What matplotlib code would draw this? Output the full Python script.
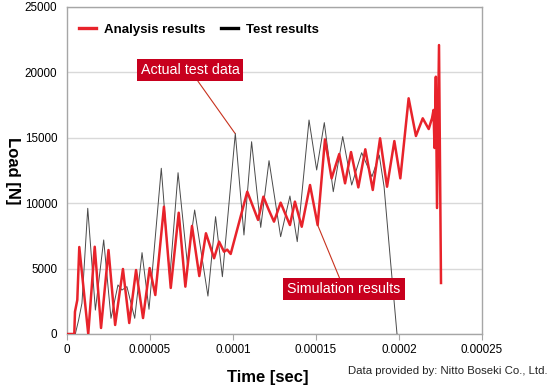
import matplotlib
matplotlib.use('Agg')
import matplotlib.pyplot as plt
import numpy as np

plt.rcParams['font.family'] = ['Liberation Sans', 'DejaVu Sans']

# analysis (simulation) results, time in microseconds, load in N
analysis_time_us = [0, 4.4, 4.8, 6.2, 7.4, 12.8, 16.7, 20.5, 25.0, 29.0, 33.7, 37.5, 41.6,
                    45.8, 49.8, 53.2, 58.4, 62.5, 67.3, 71.3, 75.3, 79.7, 83.7, 88.6,
                    91.6, 94.6, 96.5, 98.6, 108.6, 115.1, 118.3, 121.5, 124.7, 128.7,
                    134.3, 137.3, 141.4, 146.4, 151.0, 155.4, 159.4, 164.0, 167.5,
                    171.1, 175.5, 179.7, 184.2, 188.6, 192.8, 197.2, 200.8, 205.8,
                    210.2, 214.3, 217.9, 219.4, 219.9, 220.8, 221.4, 222.2, 222.9,
                    224.1, 225.3]
analysis_load = [0, 0, 1700, 2600, 6650, 0, 6670, 460, 6420, 690, 4970, 840, 4890,
                 1220, 5040, 2980, 9730, 3520, 9270, 3620, 8260, 4430, 7700, 5790,
                 7060, 6290, 6450, 6120, 10880, 8720, 10500, 9500, 8590, 10040,
                 8330, 10120, 8200, 11390, 8330, 14880, 11900, 13760, 11520,
                 13910, 11210, 14120, 11010, 14960, 11260, 14750, 11900, 18020,
                 15140, 16490, 15670, 16300, 16490, 17130, 14220, 19670, 9630,
                 22090, 3900]

# measured test results
test_time_us = [0, 5.0, 7.0, 9.0, 12.5, 17.1, 22.1, 26.5, 30.7, 33.1, 36.1, 40.8, 45.2,
                49.4, 56.8, 61.9, 66.9, 72.5, 76.9, 84.9, 89.5, 93.6, 101.4, 106.6,
                111.2, 116.7, 121.7, 128.7, 134.3, 138.7, 145.8, 150.4, 155.0,
                160.4, 166.1, 171.5, 177.5, 183.7, 188.1, 191.0, 195.0, 198.8]
test_load = [0, 0, 1070, 2350, 9610, 1830, 7190, 1200, 3750, 3360, 3620, 1200, 6220,
             1890, 12670, 4260, 12330, 5400, 9480, 2900, 8970, 4380, 15340, 7570,
             14700, 8150, 13250, 7440, 10550, 7060, 16360, 12540, 16160,
             10880, 15090, 11390, 13860, 12030, 13680, 11260, 5400, 0]

x_ticks = [0, 0.00005, 0.0001, 0.00015, 0.0002, 0.00025]
x_ticklabels = ['0', '0.00005', '0.0001', '0.00015', '0.0002', '0.00025']
y_ticks = [0, 5000, 10000, 15000, 20000, 25000]

RED = '#e8232b'
BOX = '#c8001e'
GRID = '#d9d9d9'
SPINE = '#a6a6a6'


def main():
    fig = plt.figure(figsize=(5.5, 3.86), dpi=100)
    ax = fig.add_axes([67 / 550, 1 - 334 / 386, 415 / 550, 327 / 386])

    t_a = np.array(analysis_time_us) * 1e-6
    t_t = np.array(test_time_us) * 1e-6

    ax.plot(t_t, test_load, color='#4a4a4a', lw=0.7, label='Test results',
            solid_joinstyle='round', zorder=3)
    ax.plot(t_a, analysis_load, color=RED, lw=1.8, label='Analysis results',
            solid_joinstyle='round', zorder=4)

    ax.set_xlim(0, 0.00025)
    ax.set_ylim(0, 25000)
    ax.set_xticks(x_ticks)
    ax.set_xticklabels(x_ticklabels)
    ax.set_yticks(y_ticks)
    ax.tick_params(axis='x', length=4, color=SPINE, labelsize=8.4, pad=3)
    ax.tick_params(axis='y', length=0, labelsize=8.4, pad=7)
    ax.grid(axis='y', color=GRID, lw=1)
    ax.set_axisbelow(True)
    for s in ax.spines.values():
        s.set_color(SPINE)
        s.set_linewidth(1)

    # legend: analysis first, thick handles
    handles, labels = ax.get_legend_handles_labels()
    leg = ax.legend(handles[::-1], labels[::-1], loc='upper left', ncol=2,
                    frameon=False, bbox_to_anchor=(0.0, 0.985),
                    prop={'weight': 'bold', 'size': 9.5}, handlelength=1.3,
                    columnspacing=1.2, handletextpad=0.6)
    for ln in leg.get_lines():
        ln.set_linewidth(2.4)
    leg.get_lines()[1].set_color('black')

    ax.set_xlabel('Time [sec]', fontsize=12, fontweight='bold')
    ax.xaxis.set_label_coords(0.484, -0.11)
    ax.set_ylabel('Load [N]', fontsize=12, fontweight='bold', rotation=270,
                  va='center')
    ax.yaxis.set_label_coords(-0.132, 0.5)

    box = dict(boxstyle='square,pad=0.28', fc=BOX, ec='none')
    arrow = dict(arrowstyle='-', color='#c8321e', lw=0.8, shrinkA=0, shrinkB=0)
    ax.annotate('Actual test data', xy=(1.012e-4, 15340), xytext=(7.41e-5, 20180),
                color='white', fontsize=10.3, ha='center', va='center',
                bbox=box, arrowprops=arrow, zorder=6)
    ax.annotate('Simulation results', xy=(1.51e-4, 8330), xytext=(1.669e-4, 3440),
                color='white', fontsize=10.3, ha='center', va='center',
                bbox=box, arrowprops=arrow, zorder=6)

    fig.text(548 / 550, 1 - 371 / 386, 'Data provided by: Nitto Boseki Co., Ltd.',
             ha='right', va='center', fontsize=8.2, color='#222222')

    fig.savefig('out.png', dpi=100)


if __name__ == '__main__':
    main()
